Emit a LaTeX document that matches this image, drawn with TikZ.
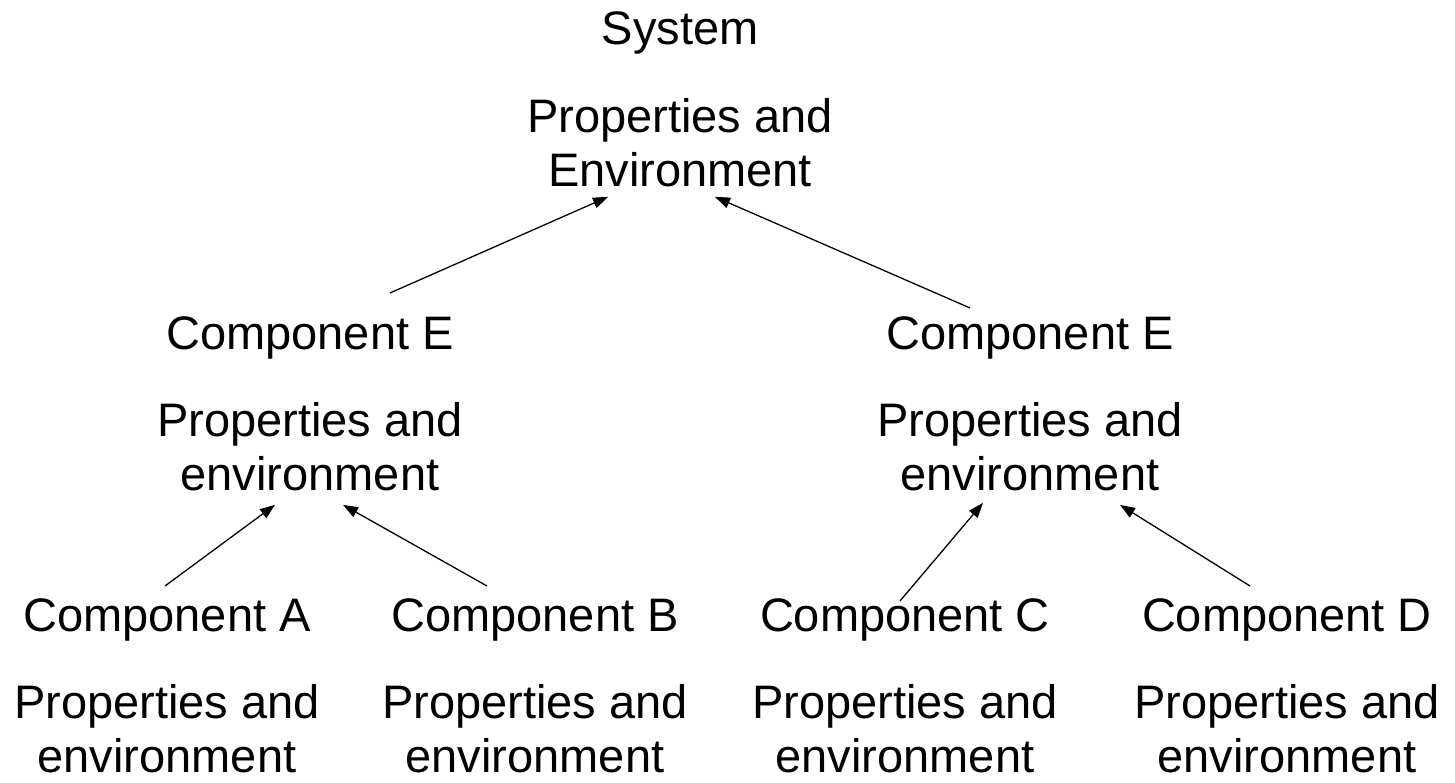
\documentclass[tikz,border=0pt]{standalone}
\usepackage{fontspec}
\setmainfont{Liberation Sans}
\usetikzlibrary{arrows.meta, positioning, calc}
\tikzstyle{comptitle} = [inner sep=0pt, font=\fontsize{47}{54}\selectfont]
\tikzstyle{props} = [inner sep=0pt, align=center, font=\fontsize{47}{54}\selectfont]
\tikzstyle{arrow} = [line width=1.3pt, -{Triangle[length=15pt,width=11pt]}]

\begin{document}
\begin{tikzpicture}[x=1pt, y=1pt, node distance=43pt]
\useasboundingbox (0,0) rectangle (1455,-783);

% Nodes
\node (system) [comptitle, anchor=base] at (680,-45) {System};
\node (sysprops) [props, below=of system] {Properties and\\Environment};
\node (compEL) [comptitle, anchor=base] at (310,-349) {Component E};
\node (propsEL) [props, below=of compEL] {Properties and\\environment};
\node (compER) [comptitle, anchor=base] at (1030,-349) {Component E};
\node (propsER) [props, below=of compER] {Properties and\\environment};
\node (compA) [comptitle, anchor=base] at (167,-631) {Component A};
\node (propsA) [props, below=of compA] {Properties and\\environment};
\node (compB) [comptitle, anchor=base] at (535,-631) {Component B};
\node (propsB) [props, below=of compB] {Properties and\\environment};
\node (compC) [comptitle, anchor=base] at (905,-631) {Component C};
\node (propsC) [props, below=of compC] {Properties and\\environment};
\node (compD) [comptitle, anchor=base] at (1287,-631) {Component D};
\node (propsD) [props, below=of compD] {Properties and\\environment};

% Links
\draw [arrow] ([shift={(80,23)}]compEL.north) -- ([shift={(-72,-10)}]sysprops.south);
\draw [arrow] ([shift={(-60,8)}]compER.north) -- ([shift={(35,-10)}]sysprops.south);
\draw [arrow] ([shift={(-2,12)}]compA.north) -- ([shift={(-35,-14)}]propsEL.south);
\draw [arrow] ([shift={(-48,12)}]compB.north) -- ([shift={(33,-14)}]propsEL.south);
\draw [arrow] ([shift={(-5,-3)}]compC.north) -- ([shift={(-47,-12)}]propsER.south);
\draw [arrow] ([shift={(-37,12)}]compD.north) -- ([shift={(90,-14)}]propsER.south);

\end{tikzpicture}
\end{document}
